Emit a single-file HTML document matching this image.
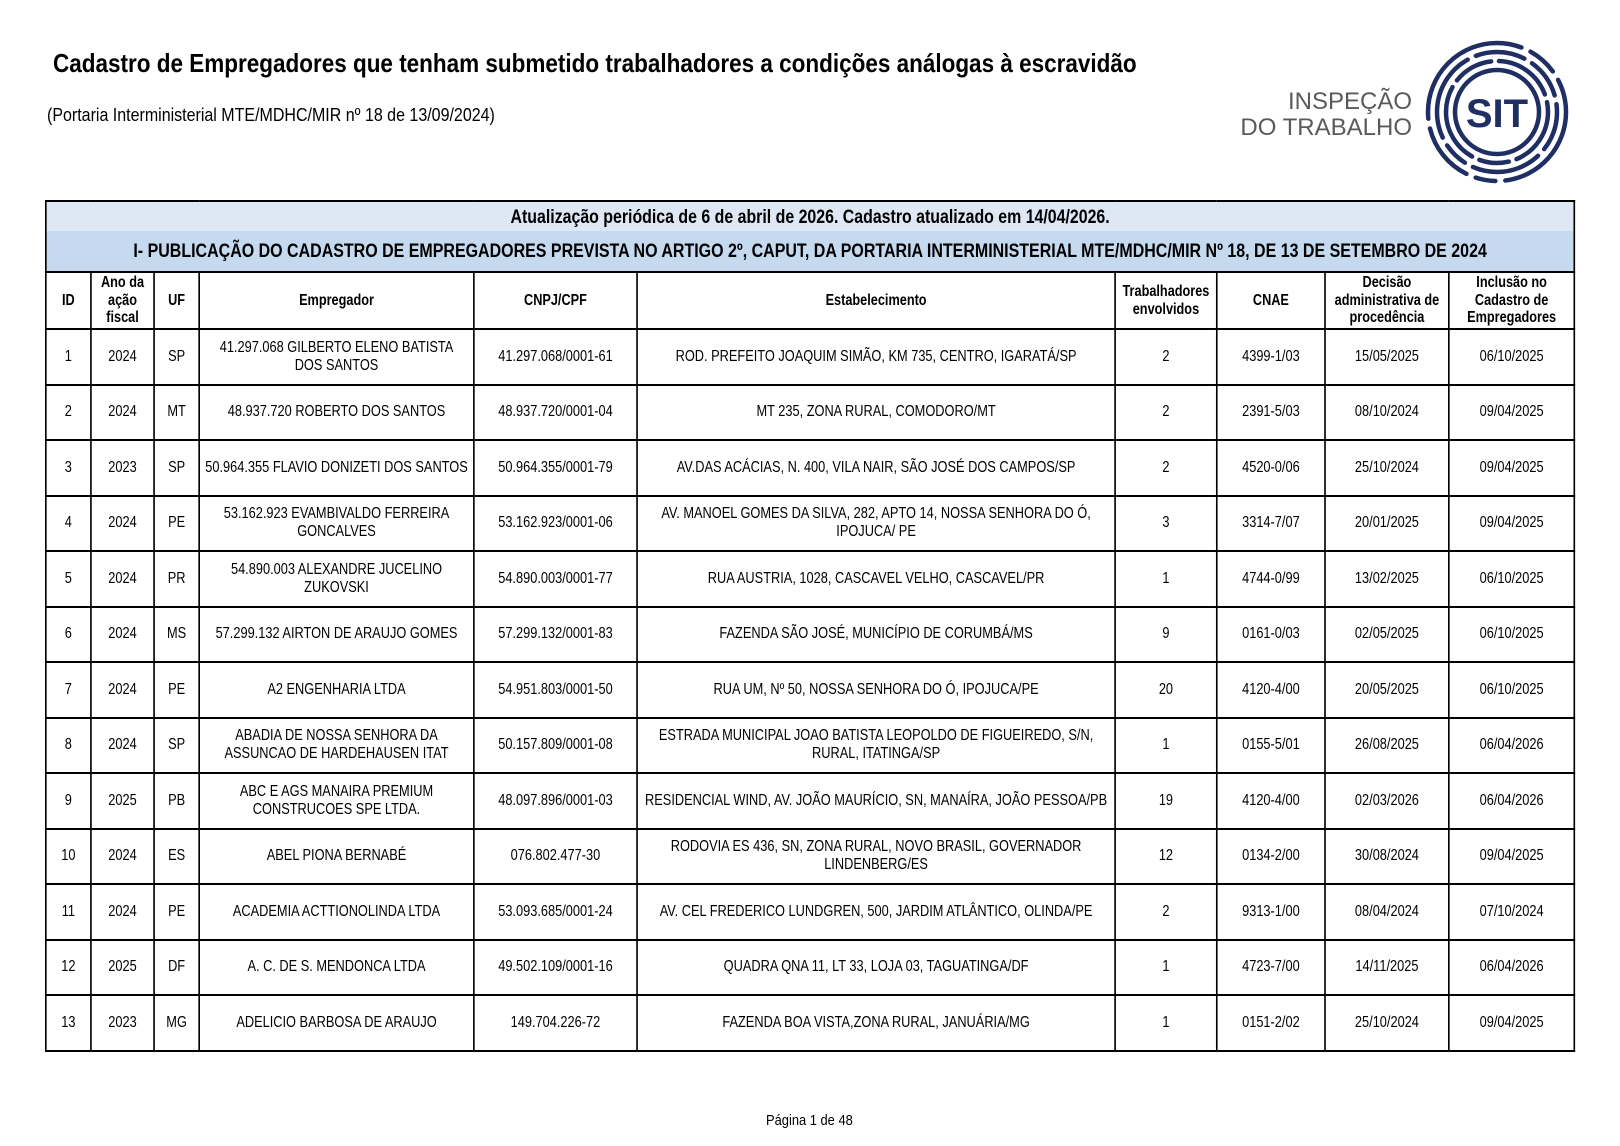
<!DOCTYPE html>
<html><head><meta charset="utf-8"><style>
body{margin:0;width:1620px;height:1146px;background:#fff;position:relative;font-family:"Liberation Sans",sans-serif;color:#000;overflow:hidden}
.t{position:absolute;white-space:nowrap;transform-origin:0 0}
table{position:absolute;left:45px;top:200px;width:1864px;border-collapse:collapse;table-layout:fixed;transform:scaleX(0.82);transform-origin:0 0}
td{border:2px solid #000;text-align:center;vertical-align:middle;font-size:15.6px;line-height:18px;padding:0 2px;overflow:hidden}
tr.r td{height:53.5px}
.h1 td{background:#dde8f4;font-weight:bold;font-size:19.4px;height:29px;border-bottom:none;white-space:nowrap}
.h2 td{background:#c5d9ef;font-weight:bold;font-size:19.5px;height:40px;border-top:none;white-space:nowrap}
.ch td{font-weight:bold;font-size:15.5px;height:55px;line-height:17.5px}
</style></head><body>
<div class="t" style="left:53px;top:48px;font-size:26px;font-weight:bold;transform:scaleX(0.865)">Cadastro de Empregadores que tenham submetido trabalhadores a condições análogas à escravidão</div>
<div class="t" style="left:47px;top:104px;font-size:18.5px;transform:scaleX(0.865)">(Portaria Interministerial MTE/MDHC/MIR nº 18 de 13/09/2024)</div>
<div class="t" style="left:1238px;top:89px;width:174px;text-align:right;font-size:24px;line-height:26px;color:#5a5a5a">INSPEÇÃO<br>DO TRABALHO</div>
<svg style="position:absolute;left:1420px;top:35px" width="156" height="156" viewBox="0 0 156 156">
<g fill="none" stroke="#1f2f63" stroke-width="4.5" stroke-linecap="round" transform="translate(77,77)">
<circle r="42"/>
<circle r="51" stroke-dasharray="60 8 30 8 80 8 40 8"/>
<circle r="60" stroke-dasharray="40 9 70 9 25 9 90 9 50 9"/>
<circle r="69" stroke-dasharray="100 10 20 10 60 10 140 10 30 10"/>
</g>
<text x="77" y="92" text-anchor="middle" font-family="Liberation Sans" font-weight="bold" font-size="40" fill="#1f2f63">SIT</text>
</svg>
<table>
<colgroup><col style="width:55px"><col style="width:77px"><col style="width:55px"><col style="width:335px"><col style="width:199px"><col style="width:583px"><col style="width:124px"><col style="width:132px"><col style="width:151px"><col style="width:153px"></colgroup>
<tr class="h1"><td colspan="10">Atualização periódica de 6 de abril de 2026. Cadastro atualizado em 14/04/2026.</td></tr>
<tr class="h2"><td colspan="10">I- PUBLICAÇÃO DO CADASTRO DE EMPREGADORES PREVISTA NO ARTIGO 2º, CAPUT, DA PORTARIA INTERMINISTERIAL MTE/MDHC/MIR Nº 18, DE 13 DE SETEMBRO DE 2024</td></tr>
<tr class="ch"><td>ID</td><td>Ano da ação fiscal</td><td>UF</td><td>Empregador</td><td>CNPJ/CPF</td><td>Estabelecimento</td><td>Trabalhadores envolvidos</td><td>CNAE</td><td>Decisão administrativa de procedência</td><td>Inclusão no Cadastro de Empregadores</td></tr>
<tr class="r"><td>1</td><td>2024</td><td>SP</td><td>41.297.068 GILBERTO ELENO BATISTA<br>DOS SANTOS</td><td>41.297.068/0001-61</td><td>ROD. PREFEITO JOAQUIM SIMÃO, KM 735, CENTRO, IGARATÁ/SP</td><td>2</td><td>4399-1/03</td><td>15/05/2025</td><td>06/10/2025</td></tr>
<tr class="r"><td>2</td><td>2024</td><td>MT</td><td>48.937.720 ROBERTO DOS SANTOS</td><td>48.937.720/0001-04</td><td>MT 235, ZONA RURAL, COMODORO/MT</td><td>2</td><td>2391-5/03</td><td>08/10/2024</td><td>09/04/2025</td></tr>
<tr class="r"><td>3</td><td>2023</td><td>SP</td><td>50.964.355 FLAVIO DONIZETI DOS SANTOS</td><td>50.964.355/0001-79</td><td>AV.DAS ACÁCIAS, N. 400, VILA NAIR, SÃO JOSÉ DOS CAMPOS/SP</td><td>2</td><td>4520-0/06</td><td>25/10/2024</td><td>09/04/2025</td></tr>
<tr class="r"><td>4</td><td>2024</td><td>PE</td><td>53.162.923 EVAMBIVALDO FERREIRA GONCALVES</td><td>53.162.923/0001-06</td><td>AV. MANOEL GOMES DA SILVA, 282, APTO 14, NOSSA SENHORA DO Ó, IPOJUCA/ PE</td><td>3</td><td>3314-7/07</td><td>20/01/2025</td><td>09/04/2025</td></tr>
<tr class="r"><td>5</td><td>2024</td><td>PR</td><td>54.890.003 ALEXANDRE JUCELINO ZUKOVSKI</td><td>54.890.003/0001-77</td><td>RUA AUSTRIA, 1028, CASCAVEL VELHO, CASCAVEL/PR</td><td>1</td><td>4744-0/99</td><td>13/02/2025</td><td>06/10/2025</td></tr>
<tr class="r"><td>6</td><td>2024</td><td>MS</td><td>57.299.132 AIRTON DE ARAUJO GOMES</td><td>57.299.132/0001-83</td><td>FAZENDA SÃO JOSÉ, MUNICÍPIO DE CORUMBÁ/MS</td><td>9</td><td>0161-0/03</td><td>02/05/2025</td><td>06/10/2025</td></tr>
<tr class="r"><td>7</td><td>2024</td><td>PE</td><td>A2 ENGENHARIA LTDA</td><td>54.951.803/0001-50</td><td>RUA UM, Nº 50, NOSSA SENHORA DO Ó, IPOJUCA/PE</td><td>20</td><td>4120-4/00</td><td>20/05/2025</td><td>06/10/2025</td></tr>
<tr class="r"><td>8</td><td>2024</td><td>SP</td><td>ABADIA DE NOSSA SENHORA DA ASSUNCAO DE HARDEHAUSEN ITAT</td><td>50.157.809/0001-08</td><td>ESTRADA MUNICIPAL JOAO BATISTA LEOPOLDO DE FIGUEIREDO, S/N, RURAL, ITATINGA/SP</td><td>1</td><td>0155-5/01</td><td>26/08/2025</td><td>06/04/2026</td></tr>
<tr class="r"><td>9</td><td>2025</td><td>PB</td><td>ABC E AGS MANAIRA PREMIUM CONSTRUCOES SPE LTDA.</td><td>48.097.896/0001-03</td><td>RESIDENCIAL WIND, AV. JOÃO MAURÍCIO, SN, MANAÍRA, JOÃO PESSOA/PB</td><td>19</td><td>4120-4/00</td><td>02/03/2026</td><td>06/04/2026</td></tr>
<tr class="r"><td>10</td><td>2024</td><td>ES</td><td>ABEL PIONA BERNABÉ</td><td>076.802.477-30</td><td>RODOVIA ES 436, SN, ZONA RURAL, NOVO BRASIL, GOVERNADOR LINDENBERG/ES</td><td>12</td><td>0134-2/00</td><td>30/08/2024</td><td>09/04/2025</td></tr>
<tr class="r"><td>11</td><td>2024</td><td>PE</td><td>ACADEMIA ACTTIONOLINDA LTDA</td><td>53.093.685/0001-24</td><td>AV. CEL FREDERICO LUNDGREN, 500, JARDIM ATLÂNTICO, OLINDA/PE</td><td>2</td><td>9313-1/00</td><td>08/04/2024</td><td>07/10/2024</td></tr>
<tr class="r"><td>12</td><td>2025</td><td>DF</td><td>A. C. DE S. MENDONCA LTDA</td><td>49.502.109/0001-16</td><td>QUADRA QNA 11, LT 33, LOJA 03, TAGUATINGA/DF</td><td>1</td><td>4723-7/00</td><td>14/11/2025</td><td>06/04/2026</td></tr>
<tr class="r"><td>13</td><td>2023</td><td>MG</td><td>ADELICIO BARBOSA DE ARAUJO</td><td>149.704.226-72</td><td>FAZENDA BOA VISTA,ZONA RURAL, JANUÁRIA/MG</td><td>1</td><td>0151-2/02</td><td>25/10/2024</td><td>09/04/2025</td></tr>
</table>
<div class="t" style="left:766px;top:1112px;font-size:15px;transform:scaleX(0.86)">Página 1 de 48</div>
</body></html>
